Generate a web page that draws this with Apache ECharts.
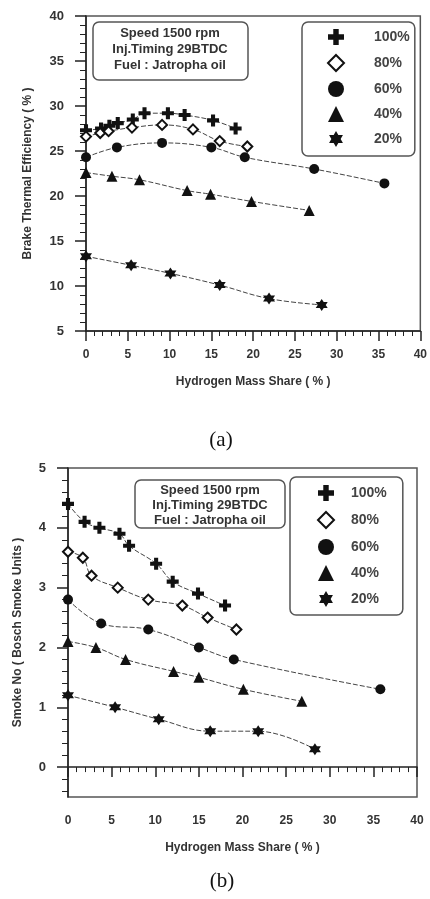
<!DOCTYPE html>
<html>
<head>
<meta charset="utf-8">
<script src="https://cdn.jsdelivr.net/npm/echarts@6/dist/echarts.min.js"></script>
<style>
  html, body { margin: 0; padding: 0; background: #fff; }
  #main { width: 430px; height: 899px; }
</style>
</head>
<body>
<div id="main"></div>
<script>
// load levels (legend)
const loads = ["100%", "80%", "60%", "40%", "20%"];

// (a) brake thermal efficiency vs hydrogen mass share
const btX100 = [0, 1.8, 2.8, 3.8, 5.6, 7.0, 9.8, 11.8, 15.2, 17.9];
const btY100 = [27.3, 27.5, 27.8, 28.1, 28.5, 29.2, 29.2, 29.0, 28.4, 27.5];
const btX80 = [0, 1.7, 2.7, 5.5, 9.1, 12.8, 16.0, 19.3];
const btY80 = [26.6, 27.0, 27.2, 27.6, 27.9, 27.4, 26.1, 25.5];
const btX60 = [0, 3.7, 9.1, 15.0, 19.0, 27.3, 35.7];
const btY60 = [24.3, 25.4, 25.9, 25.4, 24.3, 23.0, 21.4];
const btX40 = [0, 3.1, 6.4, 12.1, 14.9, 19.8, 26.7];
const btY40 = [22.6, 22.2, 21.8, 20.6, 20.2, 19.4, 18.4];
const btX20 = [0, 5.4, 10.1, 16.0, 21.9, 28.2];
const btY20 = [13.3, 12.3, 11.4, 10.1, 8.6, 7.9];

// (b) smoke number vs hydrogen mass share
const smX100 = [0, 1.9, 3.6, 5.9, 7.0, 10.1, 12.0, 14.9, 18.0];
const smY100 = [4.4, 4.1, 4.0, 3.9, 3.7, 3.4, 3.1, 2.9, 2.7];
const smX80 = [0, 1.7, 2.7, 5.7, 9.2, 13.1, 16.0, 19.3];
const smY80 = [3.6, 3.5, 3.2, 3.0, 2.8, 2.7, 2.5, 2.3];
const smX60 = [0, 3.8, 9.2, 15.0, 19.0, 35.8];
const smY60 = [2.8, 2.4, 2.3, 2.0, 1.8, 1.3];
const smX40 = [0, 3.2, 6.6, 12.1, 15.0, 20.1, 26.8];
const smY40 = [2.1, 2.0, 1.8, 1.6, 1.5, 1.3, 1.1];
const smX20 = [0, 5.4, 10.4, 16.3, 21.8, 28.3];
const smY20 = [1.2, 1.0, 0.8, 0.6, 0.6, 0.3];

// tick values for the smoke axis
const smokeTicks = [0, 1, 2, 3, 4, 5];
const smokeMinorTicks = [-0.4, -0.2, 0.2, 0.4, 0.6, 0.8, 1.2, 1.4, 1.6, 1.8,
  2.2, 2.4, 2.6, 2.8, 3.2, 3.4, 3.6, 3.8, 4.2, 4.4, 4.6, 4.8];

const infoText = "Speed 1500 rpm\nInj.Timing 29BTDC\nFuel : Jatropha oil";

// symbols
const plusPath = "path://M3.3,0H6.7V3.3H10V6.7H6.7V10H3.3V6.7H0V3.3H3.3Z";
const starPath = "path://M5,0L6.45,2.5H9.33L7.9,5L9.33,7.5H6.45L5,10L3.55,7.5H0.67L2.1,5L0.67,2.5H3.55Z";
const symbols = [plusPath, "diamond", "circle", "triangle", starPath];
const symbolSizes = [12, 10, 10, 11, 12];

const font = "Liberation Sans";
const ink = "#333";

function pairs(xs, ys) {
  return xs.map((x, i) => [x, ys[i]]);
}

function makeSeries(name, idx, xs, ys, axisIdx) {
  const hollow = symbols[idx] === "diamond";
  return {
    name: name,
    type: "line",
    xAxisIndex: axisIdx,
    yAxisIndex: axisIdx,
    data: pairs(xs, ys),
    smooth: 0.4,
    symbol: symbols[idx],
    symbolSize: symbolSizes[idx],
    showAllSymbol: true,
    lineStyle: { color: "#444", width: 1, type: [5, 2] },
    itemStyle: hollow
      ? { color: "#fff", borderColor: "#111", borderWidth: 2 }
      : { color: "#111", borderWidth: 0 },
    emphasis: { disabled: true },
    z: 3,
  };
}

function legendFor(left, top, pad, textPadLeft, gap) {
  return {
    orient: "vertical",
    left: left,
    top: top,
    padding: pad,
    itemGap: gap,
    itemWidth: 16,
    itemHeight: 16,
    borderColor: "#555",
    borderWidth: 1.5,
    borderRadius: 6,
    selectedMode: false,
    data: loads.map((name, i) => ({ name: name, icon: symbols[i] })),
    textStyle: {
      fontFamily: font,
      fontWeight: "bold",
      fontSize: 14,
      color: "#444",
      padding: [0, 0, 0, textPadLeft],
    },
  };
}

function xAxisFor(gridIdx) {
  return {
    gridIndex: gridIdx,
    type: "value",
    min: 0,
    max: 40,
    interval: 5,
    name: "Hydrogen Mass Share ( % )",
    nameLocation: "middle",
    nameGap: 45,
    nameTextStyle: { fontFamily: font, fontWeight: "bold", fontSize: 12, color: ink },
    axisLine: { show: true, lineStyle: { color: "#222", width: 1.5 } },
    axisTick: { show: true, length: 10, lineStyle: { color: "#222", width: 1.5 } },
    minorTick: { show: true, splitNumber: 5, length: 5, lineStyle: { color: "#222", width: 1 } },
    axisLabel: { margin: 18, fontFamily: font, fontWeight: "bold", fontSize: 12, color: ink },
    splitLine: { show: false },
  };
}

const tickStyle = { color: "#222", width: 1.5 };

let myChart = echarts.init(document.getElementById("main"));

let option = {
  animation: false,
  backgroundColor: "#fff",
  grid: [
    { left: 86, top: 16, width: 335, height: 315, show: true, borderColor: "#555", borderWidth: 1.5 },
    { left: 68, top: 468, width: 349, height: 329, show: true, borderColor: "#555", borderWidth: 1.5 },
  ],
  xAxis: [xAxisFor(0), xAxisFor(1)],
  yAxis: [
    {
      gridIndex: 0,
      type: "value",
      min: 5,
      max: 40,
      interval: 5,
      name: "Brake Thermal Efficiency ( % )",
      nameLocation: "middle",
      nameGap: 52,
      nameTextStyle: { fontFamily: font, fontWeight: "bold", fontSize: 12, color: ink },
      axisLine: { show: true, lineStyle: { color: "#222", width: 1.5 } },
      axisTick: { show: true, length: 11, lineStyle: tickStyle },
      minorTick: { show: true, splitNumber: 5, length: 6, lineStyle: { color: "#222", width: 1 } },
      axisLabel: { margin: 22, fontFamily: font, fontWeight: "bold", fontSize: 13, color: ink },
      splitLine: { show: false },
    },
    {
      gridIndex: 1,
      type: "value",
      position: "left",
      min: -0.5,
      max: 5,
      name: "Smoke No ( Bosch Smoke Units )",
      nameLocation: "middle",
      nameGap: 44,
      nameTextStyle: { fontFamily: font, fontWeight: "bold", fontSize: 12, color: ink },
      axisLine: { show: true, lineStyle: { color: "#222", width: 1.5 } },
      axisTick: { show: true, length: 11, lineStyle: tickStyle, customValues: smokeTicks },
      axisLabel: { margin: 22, fontFamily: font, fontWeight: "bold", fontSize: 13, color: ink, customValues: smokeTicks },
      splitLine: { show: false },
    },
    {
      gridIndex: 1,
      type: "value",
      position: "left",
      min: -0.5,
      max: 5,
      axisLine: { show: false },
      axisTick: { show: true, length: 6, lineStyle: { color: "#222", width: 1 }, customValues: smokeMinorTicks },
      axisLabel: { show: false },
      splitLine: { show: false },
    },
  ],
  legend: [
    legendFor(302, 22, [7, 5, 9, 25], 25, 9),
    legendFor(290, 477, [8, 16, 8, 27], 12, 10),
  ],
  graphic: [
    {
      type: "rect",
      shape: { x: 93, y: 22, width: 155, height: 58, r: 6 },
      style: { fill: "#fff", stroke: "#555", lineWidth: 1.5 },
      z: 10,
    },
    {
      type: "text",
      x: 170,
      y: 49,
      style: {
        text: infoText,
        fontFamily: font,
        fontWeight: "bold",
        fontSize: 13,
        lineHeight: 16,
        fill: ink,
        align: "center",
        verticalAlign: "middle",
      },
      z: 11,
    },
    {
      type: "rect",
      shape: { x: 135, y: 480, width: 150, height: 48, r: 6 },
      style: { fill: "#fff", stroke: "#555", lineWidth: 1.5 },
      z: 10,
    },
    {
      type: "text",
      x: 210,
      y: 505,
      style: {
        text: infoText,
        fontFamily: font,
        fontWeight: "bold",
        fontSize: 13,
        lineHeight: 15,
        fill: ink,
        align: "center",
        verticalAlign: "middle",
      },
      z: 11,
    },
    {
      type: "text",
      x: 221,
      y: 440,
      style: { text: "(a)", fontFamily: "Liberation Serif", fontSize: 21, fill: "#111", align: "center", verticalAlign: "middle" },
    },
    {
      type: "text",
      x: 222,
      y: 881,
      style: { text: "(b)", fontFamily: "Liberation Serif", fontSize: 21, fill: "#111", align: "center", verticalAlign: "middle" },
    },
  ],
  series: [
    makeSeries("100%", 0, btX100, btY100, 0),
    makeSeries("80%", 1, btX80, btY80, 0),
    makeSeries("60%", 2, btX60, btY60, 0),
    makeSeries("40%", 3, btX40, btY40, 0),
    makeSeries("20%", 4, btX20, btY20, 0),
    makeSeries("100%", 0, smX100, smY100, 1),
    makeSeries("80%", 1, smX80, smY80, 1),
    makeSeries("60%", 2, smX60, smY60, 1),
    makeSeries("40%", 3, smX40, smY40, 1),
    makeSeries("20%", 4, smX20, smY20, 1),
  ],
};

myChart.setOption(option);
</script>
</body>
</html>
